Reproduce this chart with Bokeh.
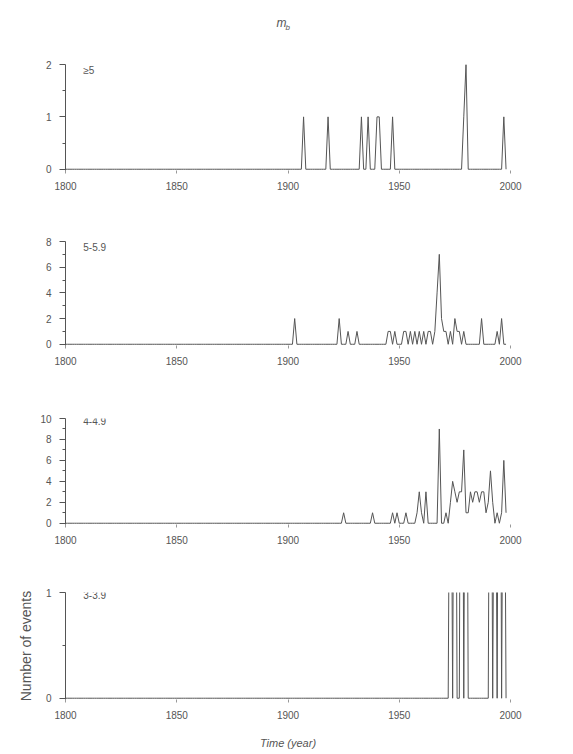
import numpy as np
from bokeh.plotting import figure
from bokeh.layouts import column
from bokeh.models import Label, FixedTicker, Range1d
from bokeh.embed import file_html
from bokeh.resources import INLINE
from bokeh.core.properties import value

FONT = "Liberation Sans"
LINE = "#555555"
TEXT = "#555555"

first_year, last_year = 1800, 1998
year_ticks = [1800, 1850, 1900, 1950, 2000]

# Annual event counts per magnitude class (years with no events are zero)
ge5_years = [1907, 1918, 1933, 1936, 1940, 1941, 1947, 1979, 1980, 1997]
ge5_counts = [1, 1, 1, 1, 1, 1, 1, 1, 2, 1]

m5_years = [1903, 1923, 1927, 1931, 1945, 1946, 1948, 1952, 1953, 1955, 1957,
            1959, 1961, 1963, 1964, 1966, 1967, 1968, 1969, 1970, 1971, 1973,
            1975, 1976, 1977, 1979, 1987, 1994, 1996]
m5_counts = [2, 2, 1, 1, 1, 1, 1, 1, 1, 1, 1,
             1, 1, 1, 1, 1, 4, 7, 2, 1, 1, 1,
             2, 1, 1, 1, 2, 1, 2]

m4_years = [1925, 1938, 1947, 1949, 1953, 1958, 1959, 1960, 1962, 1968, 1971,
            1973, 1974, 1975, 1976, 1977, 1978, 1979, 1980, 1981, 1982, 1983,
            1984, 1985, 1986, 1987, 1988, 1989, 1990, 1991, 1992, 1993, 1994,
            1996, 1997, 1998]
m4_counts = [1, 1, 1, 1, 1, 1, 3, 1, 3, 9, 1,
             2, 4, 3, 2, 3, 3, 7, 1, 1, 3, 2,
             3, 3, 2, 3, 3, 1, 2, 5, 2, 0, 1,
             1, 6, 1]

m3_years = [1973, 1975, 1978, 1980, 1991, 1993, 1995, 1997]
m3_counts = [4, 5, 6, 5, 5, 4, 6, 4]

class_labels = ["\u22655", "5-5.9", "4-4.9", "3-3.9"]


def annual_series(years, counts):
    all_years = np.arange(first_year, last_year + 1)
    series = np.zeros(len(all_years))
    for y, c in zip(years, counts):
        series[y - first_year] = c
    return all_years, series


def panel(years, counts, ymax, majors, minors, label, label_y, height, top, bottom,
          xlabel=None, ylabel=None):
    p = figure(width=573, height=height,
               x_range=Range1d(1800, 2000), y_range=Range1d(-0.012 * ymax, ymax),
               output_backend="svg", toolbar_location=None,
               min_border_left=65, min_border_right=63,
               min_border_top=top, min_border_bottom=bottom)
    p.outline_line_color = None
    p.grid.grid_line_color = None
    p.background_fill_color = "white"
    p.border_fill_color = "white"

    xs, ys = annual_series(years, counts)
    p.line(xs, ys, line_color=LINE, line_width=1)

    xa = p.xaxis[0]
    xa.ticker = FixedTicker(ticks=year_ticks)
    xa.axis_line_color = None
    xa.major_tick_in = 0
    xa.major_tick_out = 3
    xa.major_tick_line_color = "#999999"
    xa.minor_tick_line_color = None
    xa.major_label_standoff = 8
    xa.major_label_text_font = FONT
    xa.major_label_text_font_size = "10px"
    xa.major_label_text_color = TEXT

    ya = p.yaxis[0]
    ya.ticker = FixedTicker(ticks=majors, minor_ticks=minors)
    ya.axis_line_color = LINE
    ya.major_tick_in = 0
    ya.major_tick_out = 6
    ya.minor_tick_in = 0
    ya.minor_tick_out = 3
    ya.major_tick_line_color = LINE
    ya.minor_tick_line_color = LINE
    ya.major_label_standoff = 8
    ya.major_label_text_font = FONT
    ya.major_label_text_font_size = "10px"
    ya.major_label_text_color = TEXT

    if xlabel:
        xa.axis_label = xlabel
        xa.axis_label_text_font = FONT
        xa.axis_label_text_font_size = "11px"
        xa.axis_label_text_font_style = "italic"
        xa.axis_label_text_color = TEXT
        xa.axis_label_standoff = 15
    if ylabel:
        ya.axis_label = ylabel
        ya.axis_label_text_font = FONT
        ya.axis_label_text_font_size = "14px"
        ya.axis_label_text_font_style = "normal"
        ya.axis_label_text_color = TEXT
        ya.axis_label_standoff = 9

    p.add_layout(Label(x=1808, y=label_y, text=label, text_font=FONT,
                       text_font_size="10px", text_color=TEXT,
                       text_baseline="middle"))
    return p


head = figure(width=573, height=40, x_range=Range1d(0, 573), y_range=Range1d(0, 40),
              x_axis_type=None, y_axis_type=None, min_border=0,
              output_backend="svg", toolbar_location=None)
head.outline_line_color = None
head.grid.grid_line_color = None
head.text(x=[278], y=[18], text=["m"], text_font=value(FONT), text_font_style="italic",
          text_font_size="12px", text_color=TEXT, text_align="center",
          text_baseline="middle")
head.text(x=[286], y=[13], text=["b"], text_font=value(FONT), text_font_style="italic",
          text_font_size="8px", text_color=TEXT, text_align="center",
          text_baseline="middle")

p1 = panel(ge5_years, ge5_counts, 2, [0, 1, 2], [0.5, 1.5], class_labels[0], 1.89,
           165, 24, 35)
p2 = panel(m5_years, m5_counts, 8, [0, 2, 4, 6, 8], [1, 3, 5, 7], class_labels[1], 7.6,
           175, 36, 35)
p3 = panel(m4_years, m4_counts, 10, [0, 2, 4, 6, 8, 10], [1, 3, 5, 7, 9], class_labels[2],
           9.8, 175, 38, 31)
p4 = panel(m3_years, m3_counts, 1, [0, 1], [0.5], class_labels[3], 0.98,
           199, 37, 55, xlabel="Time (year)", ylabel="Number of events")

layout = column(head, p1, p2, p3, p4, spacing=0)
open("out.html", "w").write(file_html(layout, INLINE))
